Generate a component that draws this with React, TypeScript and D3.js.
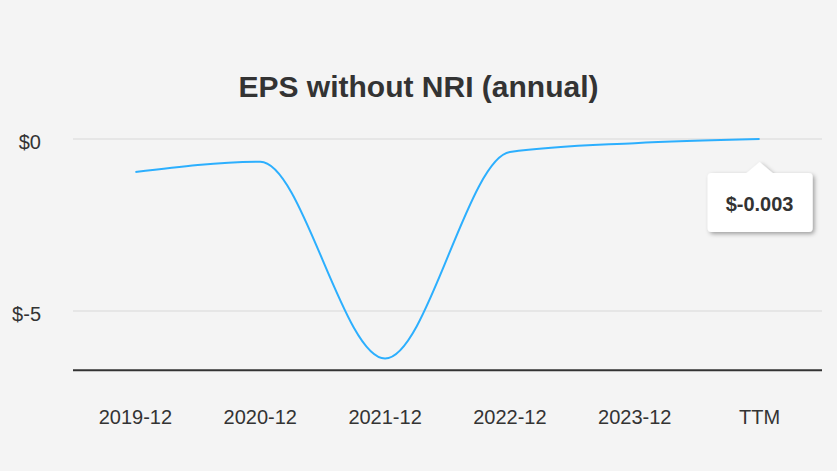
import React, { useRef, useEffect } from "react";
import * as d3 from "d3";

const categories = ["2019-12", "2020-12", "2021-12", "2022-12", "2023-12", "TTM"];
const eps = [-0.96, -0.66, -6.38, -0.38, -0.12, -0.003];
const yTicks = [0, -5];
const tooltipLabel = "$-0.003";

const App: React.FC = () => {
  const svgRef = useRef<SVGSVGElement>(null);

  useEffect(() => {
    document.body.style.margin = "0";
    if (!svgRef.current) return;

    const width = 837;
    const height = 471;
    const left = 73;
    const right = 822;
    const font = "'Liberation Sans', Arial, sans-serif";

    const svg = d3.select(svgRef.current).attr("width", width).attr("height", height);
    svg.selectAll("*").remove();

    svg.append("rect").attr("width", width).attr("height", height).attr("fill", "#f4f4f4");

    // title
    svg
      .append("text")
      .attr("x", width / 2)
      .attr("y", 97)
      .attr("text-anchor", "middle")
      .attr("font-family", font)
      .attr("font-weight", "bold")
      .attr("font-size", 30)
      .attr("fill", "#333")
      .text("EPS without NRI (annual)");

    // scales
    const xScale = d3.scalePoint<string>().domain(categories).range([left, right]).padding(0.5);
    const yScale = d3.scaleLinear().domain([-5, 0]).range([311, 139]);

    // grid lines + y labels
    yTicks.forEach((t) => {
      svg
        .append("line")
        .attr("x1", left)
        .attr("x2", right)
        .attr("y1", yScale(t))
        .attr("y2", yScale(t))
        .attr("stroke", "#e6e6e6")
        .attr("stroke-width", 2);
      svg
        .append("text")
        .attr("x", 41)
        .attr("y", yScale(t) + 10)
        .attr("text-anchor", "end")
        .attr("font-family", font)
        .attr("font-size", 20)
        .attr("fill", "#333")
        .text(`$${t}`);
    });

    // baseline
    const baseY = yScale(-6.72);
    svg
      .append("line")
      .attr("x1", left)
      .attr("x2", right)
      .attr("y1", baseY)
      .attr("y2", baseY)
      .attr("stroke", "#333")
      .attr("stroke-width", 2);

    // x labels
    categories.forEach((c) => {
      svg
        .append("text")
        .attr("x", xScale(c) ?? 0)
        .attr("y", 424)
        .attr("text-anchor", "middle")
        .attr("font-family", font)
        .attr("font-size", 20)
        .attr("fill", "#333")
        .text(c);
    });

    // line
    const line = d3
      .line<number>()
      .x((_, i) => xScale(categories[i]) ?? 0)
      .y((d) => yScale(d))
      .curve(d3.curveMonotoneX);

    svg
      .append("path")
      .datum(eps)
      .attr("d", line)
      .attr("fill", "none")
      .attr("stroke", "#2caffe")
      .attr("stroke-width", 2);

    // tooltip
    const defs = svg.append("defs");
    const filter = defs
      .append("filter")
      .attr("id", "shadow")
      .attr("x", "-20%")
      .attr("y", "-20%")
      .attr("width", "150%")
      .attr("height", "150%");
    filter
      .append("feDropShadow")
      .attr("dx", 2)
      .attr("dy", 2)
      .attr("stdDeviation", 2)
      .attr("flood-color", "#000")
      .attr("flood-opacity", 0.35);

    const px = xScale("TTM") ?? 0;
    const tipY = 162;
    const bx0 = px - 52;
    const bx1 = px + 53;
    const by0 = 173;
    const by1 = 232;
    const r = 4;
    const path = d3.path();
    path.moveTo(bx0 + r, by0);
    path.lineTo(px - 13, by0);
    path.lineTo(px, tipY);
    path.lineTo(px + 13, by0);
    path.lineTo(bx1 - r, by0);
    path.quadraticCurveTo(bx1, by0, bx1, by0 + r);
    path.lineTo(bx1, by1 - r);
    path.quadraticCurveTo(bx1, by1, bx1 - r, by1);
    path.lineTo(bx0 + r, by1);
    path.quadraticCurveTo(bx0, by1, bx0, by1 - r);
    path.lineTo(bx0, by0 + r);
    path.quadraticCurveTo(bx0, by0, bx0 + r, by0);
    path.closePath();

    svg
      .append("path")
      .attr("d", path.toString())
      .attr("fill", "#fff")
      .attr("filter", "url(#shadow)");

    svg
      .append("text")
      .attr("x", px)
      .attr("y", 211)
      .attr("text-anchor", "middle")
      .attr("font-family", font)
      .attr("font-weight", "bold")
      .attr("font-size", 20)
      .attr("fill", "#333")
      .text(tooltipLabel);
  }, []);

  return <svg ref={svgRef} style={{ display: "block" }}></svg>;
};

export default App;
